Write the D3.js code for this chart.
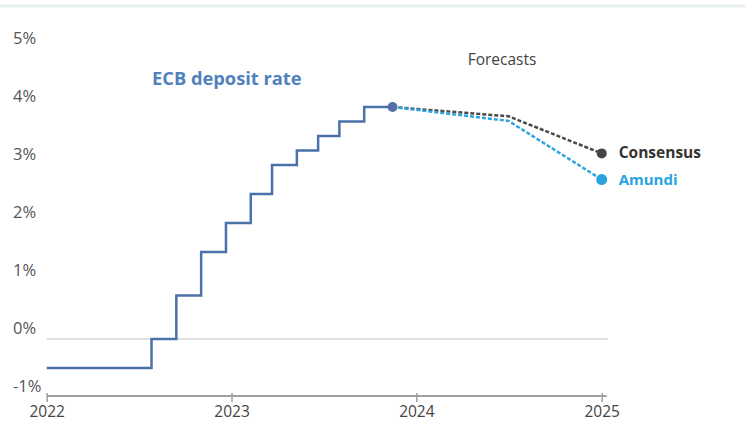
<!DOCTYPE html>
<html>
<head>
<meta charset="utf-8">
<script src="https://cdn.jsdelivr.net/npm/d3@7"></script>
<style>
  html, body { margin: 0; padding: 0; background: #fff; }
  svg { display: block; }
  text { font-family: "Open Sans", Lato, sans-serif; }
</style>
</head>
<body>
<svg id="chart" width="745" height="428"></svg>
<script>
// ---- Data ----
const stepDates = ["2022-01-01","2022-07-27","2022-09-14","2022-11-02","2022-12-21","2023-02-08","2023-03-22","2023-05-10","2023-06-21","2023-08-02","2023-09-20","2023-11-15"];
const stepRates = [-0.5, 0, 0.75, 1.5, 2.0, 2.5, 3.0, 3.25, 3.5, 3.75, 4.0, 4.0];

const forecastDates = ["2023-11-15","2024-07-01","2025-01-01"];
const consensusRates = [4.0, 3.84, 3.2];
const amundiRates = [4.0, 3.76, 2.75];

const yTicks = [-1, 0, 1, 2, 3, 4, 5];
const xTickYears = ["2022","2023","2024","2025"];

// ---- Setup ----
const parse = d3.utcParse("%Y-%m-%d");
const svg = d3.select("#chart");
const FONT = "'Open Sans', Lato, sans-serif";

const x = d3.scaleUtc()
  .domain([parse("2022-01-01"), parse("2025-01-01")])
  .range([46.7, 601.7]);
const y = d3.scaleLinear().domain([-1, 5]).range([397, 49]);

// top faint border
svg.append("line").attr("x1", 0).attr("x2", 745).attr("y1", 6).attr("y2", 6)
  .attr("stroke", "#e9efef").attr("stroke-width", 3);

// zero gridline
svg.append("line")
  .attr("x1", x.range()[0]).attr("x2", x.range()[1] + 6)
  .attr("y1", y(0)).attr("y2", y(0))
  .attr("stroke", "#d6d6d6").attr("stroke-width", 1.5);

// y labels
svg.append("g").selectAll("text").data(yTicks).join("text")
  .attr("x", 13).attr("y", d => y(d) - 5.5)
  .attr("font-size", 16.5).attr("fill", "#555")
  .text(d => d + "%");

// x axis
const xAxis = d3.axisBottom(x)
  .tickValues(xTickYears.map(t => parse(t + "-01-01")))
  .tickFormat(d3.utcFormat("%Y"))
  .tickSize(6).tickSizeOuter(0);
const gx = svg.append("g").attr("transform", `translate(0,${y(-1) - 1})`).call(xAxis);
gx.select(".domain").attr("stroke", "#a0a0a0").attr("stroke-width", 2)
  .attr("d", `M${x.range()[0]},0H${x.range()[1] + 5}`);
gx.selectAll(".tick line").attr("stroke", "#a0a0a0").attr("stroke-width", 1.5).attr("y1", -3).attr("y2", 6);
gx.selectAll(".tick text").attr("font-size", 15.5).attr("fill", "#444")
  .attr("font-family", FONT).attr("dy", "0.55em").attr("y", 12);

// step line
const stepData = stepDates.map((d, i) => ({ date: parse(d), v: stepRates[i] }));
svg.append("path").datum(stepData)
  .attr("fill", "none").attr("stroke", "#4b71aa").attr("stroke-width", 2.5)
  .attr("d", d3.line().x(d => x(d.date)).y(d => y(d.v)).curve(d3.curveStepAfter));

// forecast lines
function fc(vals) { return forecastDates.map((d, i) => ({ date: parse(d), v: vals[i] })); }
const fLine = d3.line().x(d => x(d.date)).y(d => y(d.v));
svg.append("path").datum(fc(consensusRates))
  .attr("fill", "none").attr("stroke", "#4a4a4a").attr("stroke-width", 2.5)
  .attr("stroke-dasharray", "4,2").attr("d", fLine);
svg.append("path").datum(fc(amundiRates))
  .attr("fill", "none").attr("stroke", "#2fa3e0").attr("stroke-width", 2.5)
  .attr("stroke-dasharray", "4,2").attr("d", fLine);

// dots
const last = stepData[stepData.length - 1];
svg.append("circle").attr("cx", x(last.date)).attr("cy", y(last.v)).attr("r", 5).attr("fill", "#5470a8");
const endC = fc(consensusRates)[2], endA = fc(amundiRates)[2];
svg.append("circle").attr("cx", x(endC.date)).attr("cy", y(endC.v)).attr("r", 5).attr("fill", "#444");
svg.append("circle").attr("cx", x(endA.date)).attr("cy", y(endA.v)).attr("r", 5.5).attr("fill", "#2aa3e0");

// labels
svg.append("text").attr("x", x(endC.date) + 17).attr("y", y(endC.v) + 5)
  .attr("font-size", 15.5).attr("font-weight", "bold").attr("fill", "#333").text("Consensus");
svg.append("text").attr("x", x(endA.date) + 17).attr("y", y(endA.v) + 5.5)
  .attr("font-size", 15).attr("font-weight", "bold").attr("fill", "#2aa3e0").text("Amundi");
svg.append("text").attr("x", 502).attr("y", 65).attr("text-anchor", "middle")
  .attr("font-size", 15.5).attr("fill", "#444").text("Forecasts");
svg.append("text").attr("x", 152).attr("y", 85)
  .attr("font-size", 18.3).attr("font-weight", "bold").attr("fill", "#4f81bd").text("ECB deposit rate");
</script>
</body>
</html>
